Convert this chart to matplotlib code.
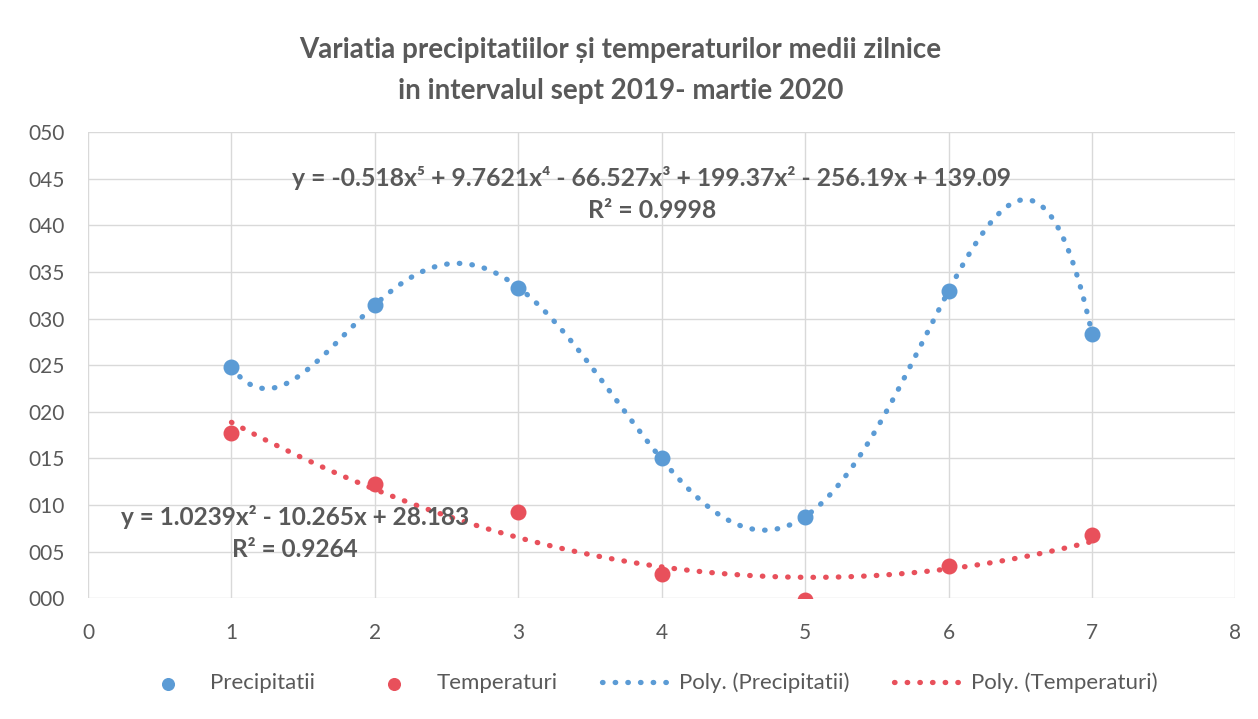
import numpy as np
import matplotlib
matplotlib.use("Agg")
import matplotlib.pyplot as plt
from matplotlib.ticker import FuncFormatter, MultipleLocator

plt.rcParams['font.family'] = ['Lato', 'DejaVu Sans']

x_vals = [1, 2, 3, 4, 5, 6, 7]
precipitatii = [24.8, 31.5, 33.3, 15.0, 8.7, 33.0, 28.4]
temperaturi = [17.7, 12.3, 9.2, 2.6, -0.2, 3.5, 6.8]

title = "Variatia precipitatiilor și temperaturilor medii zilnice\nin intervalul sept 2019- martie 2020"
eq_precip = "y = -0.518x⁵ + 9.7621x⁴ - 66.527x³ + 199.37x² - 256.19x + 139.09\nR² = 0.9998"
eq_temp = "y = 1.0239x² - 10.265x + 28.183\nR² = 0.9264"

blue = "#5B9BD5"
red = "#E8505B"
textc = "#595959"

fig = plt.figure(figsize=(12.58, 7.19), dpi=100)
ax = fig.add_axes([0.070, 0.168, 0.912, 0.648])

x = np.array(x_vals, dtype=float)
xs = np.linspace(1, 7, 300)
cp = np.polyfit(x, precipitatii, 5)
ct = np.polyfit(x, temperaturi, 2)

ax.plot(xs, np.polyval(cp, xs), linestyle=(0, (0.1, 2.3)), dash_capstyle='round',
        color=blue, lw=3.8, label="Poly. (Precipitatii)", zorder=2)
ax.plot(xs, np.polyval(ct, xs), linestyle=(0, (0.1, 2.3)), dash_capstyle='round',
        color=red, lw=3.8, label="Poly. (Temperaturi)", zorder=2)
ax.scatter(x, precipitatii, s=110, color=blue, label="Precipitatii", zorder=3)
ax.scatter(x, temperaturi, s=110, color=red, label="Temperaturi", zorder=3)

ax.set_xlim(0, 8)
ax.set_ylim(0, 50)
ax.xaxis.set_major_locator(MultipleLocator(1))
ax.yaxis.set_major_locator(MultipleLocator(5))
ax.yaxis.set_major_formatter(FuncFormatter(lambda v, p: f"{int(round(v)):03d}"))
ax.grid(True, color="#D9D9D9", lw=1)
ax.set_axisbelow(True)
for s in ax.spines.values():
    s.set_visible(False)
ax.tick_params(length=0, labelsize=15, colors=textc)
ax.tick_params(axis='y', pad=17)
ax.tick_params(axis='x', pad=18)

ax.set_title(title, fontsize=20, fontweight='bold', color=textc, pad=24,
             linespacing=1.7, x=0.464)

ax.text(3.93, 43.4, eq_precip, ha='center', va='center', fontsize=17.8, fontweight='bold',
        color=textc, linespacing=1.45)
ax.text(1.44, 7.0, eq_temp, ha='center', va='center', fontsize=17.6, fontweight='bold',
        color=textc, linespacing=1.45)

h, l = ax.get_legend_handles_labels()
order = [2, 3, 0, 1]
leg = fig.legend([h[i] for i in order], [l[i] for i in order], loc='center',
                 bbox_to_anchor=(0.513, 0.05), ncol=4, frameon=False, fontsize=16,
                 handlelength=3.1, handletextpad=0.36, columnspacing=2.0, markerscale=0.8)
for t in leg.get_texts():
    t.set_color(textc)

fig.savefig("out.png", dpi=100)
